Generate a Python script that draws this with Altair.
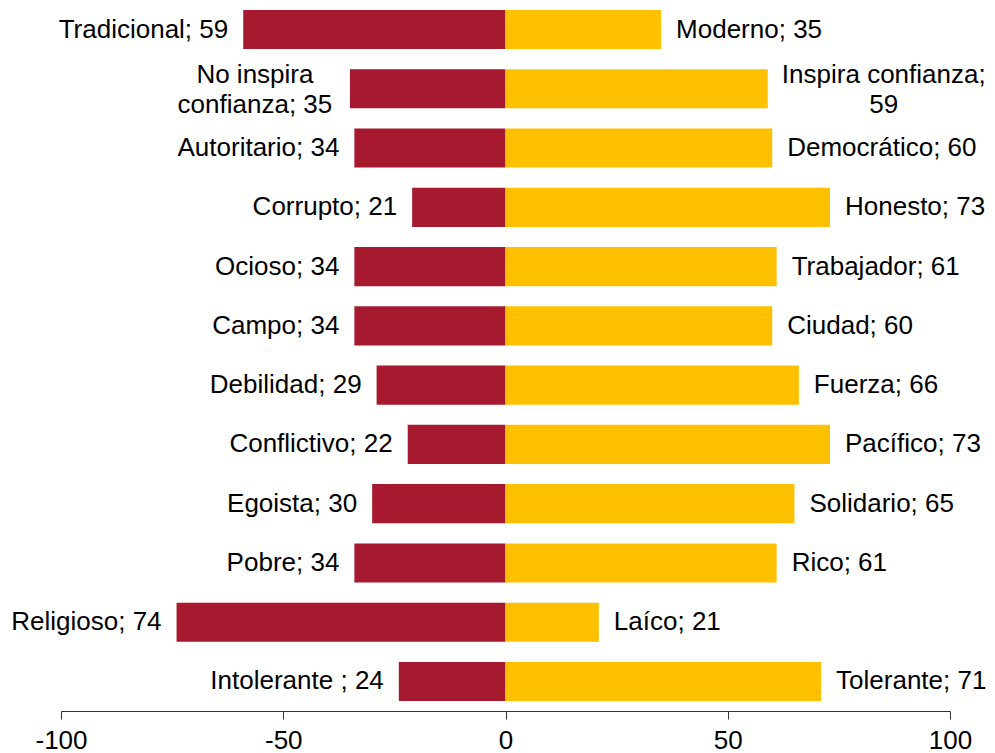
import altair as alt
import pandas as pd

rows = ["r01", "r02", "r03", "r04", "r05", "r06", "r07", "r08", "r09", "r10", "r11", "r12"]
left_values = [59, 35, 34, 21, 34, 34, 29, 22, 30, 34, 74, 24]
right_values = [35, 59, 60, 73, 61, 60, 66, 73, 65, 61, 21, 71]
left_labels = [
    "Tradicional; 59", "No inspira\nconfianza; 35", "Autoritario; 34", "Corrupto; 21",
    "Ocioso; 34", "Campo; 34", "Debilidad; 29", "Conflictivo; 22", "Egoista; 30",
    "Pobre; 34", "Religioso; 74", "Intolerante ; 24",
]
right_labels = [
    "Moderno; 35", "Inspira confianza;\n59", "Democrático; 60", "Honesto; 73",
    "Trabajador; 61", "Ciudad; 60", "Fuerza; 66", "Pacífico; 73", "Solidario; 65",
    "Rico; 61", "Laíco; 21", "Tolerante; 71",
]
x_ticks = [-100, -50, 0, 50, 100]

recs = []
for r, v, lab in zip(rows, left_values, left_labels):
    recs.append({"row": r, "side": "neg", "start": -v, "end": 0, "label": lab, "multi": "\n" in lab})
for r, v, lab in zip(rows, right_values, right_labels):
    recs.append({"row": r, "side": "pos", "start": 0, "end": v, "label": lab, "multi": "\n" in lab})
df = pd.DataFrame(recs)

FONT = "Liberation Sans"
FS = 26

yenc = alt.Y("row:N", sort=rows, axis=None,
             scale=alt.Scale(paddingInner=0.34, paddingOuter=0.033))
xscale = alt.Scale(domain=[-100, 100], nice=False, zero=False)

base = alt.Chart(df)

bars = base.mark_bar().encode(
    x=alt.X("start:Q", scale=xscale,
            axis=alt.Axis(values=x_ticks, title=None, grid=False, tickSize=8,
                          domainColor="#333333", tickColor="#333333", labelColor="#000000",
                          labelFontSize=FS, labelFont=FONT, labelPadding=8, offset=8,
                          labelExpr="'' + datum.value", labelFlush=False)),
    x2="end:Q",
    y=yenc,
    color=alt.Color("side:N", scale=alt.Scale(domain=["neg", "pos"], range=["#A6192E", "#FFC000"]),
                    legend=None),
)

def txt(side, multi, xfield, align, dx, dy=0):
    return base.transform_filter(
        (alt.datum.side == side) & (alt.datum.multi == multi)
    ).mark_text(align=align, dx=dx, dy=dy, fontSize=FS, font=FONT, color="#000000",
                lineBreak="\n", lineHeight=30).encode(
        x=alt.X(xfield + ":Q", scale=xscale),
        y=yenc,
        text="label:N",
    )

layers = [
    bars,
    txt("neg", False, "start", "right", -15),
    txt("pos", False, "end", "left", 15),
    txt("neg", True, "start", "center", -95, -14),
    txt("pos", True, "end", "center", 116, -14),
]

chart = alt.layer(*layers).properties(
    width=889, height=695,
    autosize=alt.AutoSizeParams(type="none"),
    padding={"left": 53, "top": 0, "right": 37, "bottom": 50},
).configure(font=FONT).configure_view(stroke=None)

chart.save("out.html", embed_options={"renderer": "svg", "actions": False})
